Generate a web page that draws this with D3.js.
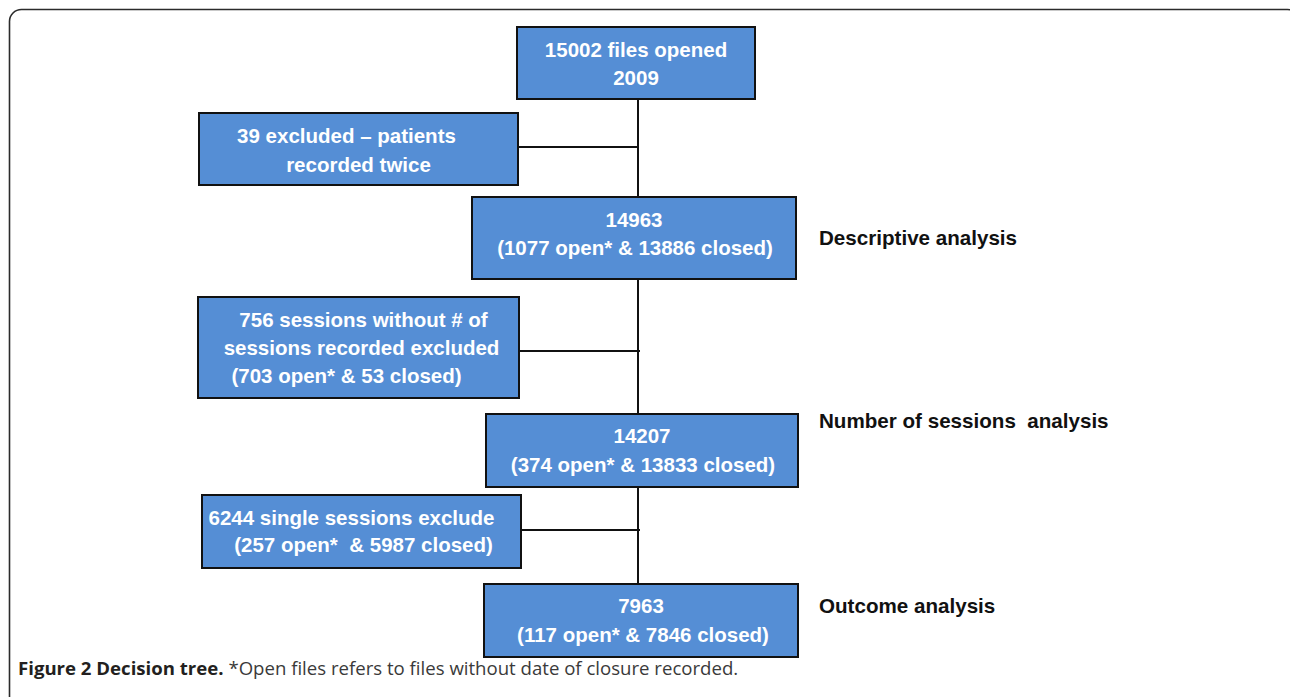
<!DOCTYPE html>
<html>
<head>
<meta charset="utf-8">
<script src="https://cdn.jsdelivr.net/npm/d3@7/dist/d3.min.js"></script>
<style>
  html, body { margin: 0; padding: 0; background: #fff; }
  svg { display: block; }
</style>
</head>
<body>
<script>
// ---- data ----
const stepLabels = [
  ["15002 files opened", "2009"],
  ["14963", "(1077 open* & 13886 closed)"],
  ["14207", "(374 open* & 13833 closed)"],
  ["7963", "(117 open* & 7846 closed)"]
];
const exclusionLabels = [
  ["39 excluded \u2013 patients", "recorded twice"],
  ["756 sessions without # of", "sessions recorded excluded", "(703 open* & 53 closed)"],
  ["6244 single sessions exclude", "(257 open*  & 5987 closed)"]
];
const stageLabels = ["Descriptive analysis", "Number of sessions  analysis", "Outcome analysis"];
const captionBold = "Figure 2 Decision tree.";
const captionText = " *Open files refers to files without date of closure recorded.";

// ---- layout (positions / sizes) ----
const W = 1290, H = 697;
const fill = "#558ed5";
const stepBoxes = [
  {x0: 517, x1: 755, y0: 27, y1: 99, base: [57, 85], dx: [0, 0]},
  {x0: 472, x1: 796, y0: 197, y1: 279, base: [227, 255], dx: [0, 1]},
  {x0: 486, x1: 798, y0: 414, y1: 487, base: [443, 472], dx: [0, 1]},
  {x0: 484, x1: 798, y0: 584, y1: 657, base: [613, 642], dx: [0, 2]}
];
const exclBoxes = [
  {x0: 199, x1: 518, y0: 113, y1: 185, base: [143, 172], dx: [-12, 0], cy: 147},
  {x0: 198, x1: 519, y0: 297, y1: 398, base: [327, 355, 383], dx: [5, 3, -12], cy: 351},
  {x0: 202, x1: 521, y0: 495, y1: 568, base: [525, 552], dx: [-10, 2], cy: 530}
];
const stageY = [245, 428, 613];
const spineX = 638;

const svg = d3.select("body").append("svg").attr("width", W).attr("height", H);

// frame
svg.append("rect")
  .attr("x", 9.5).attr("y", 9.5).attr("width", 1290).attr("height", 720)
  .attr("rx", 12).attr("ry", 12)
  .attr("fill", "none").attr("stroke", "#2b2b2b").attr("stroke-width", 1.6);

const lineG = svg.append("g").attr("stroke", "#111").attr("stroke-width", 2);

// spine segments between consecutive step boxes
d3.pairs(stepBoxes).forEach(([a, b]) => {
  lineG.append("line").attr("x1", spineX).attr("x2", spineX).attr("y1", a.y1).attr("y2", b.y0);
});
// branches
exclBoxes.forEach((e, i) => {
  lineG.append("line").attr("x1", e.x1).attr("x2", i === 0 ? spineX : spineX + 2)
    .attr("y1", e.cy).attr("y2", e.cy);
});

function drawBox(b, lines) {
  const g = svg.append("g");
  g.append("rect")
    .attr("x", b.x0).attr("y", b.y0)
    .attr("width", b.x1 - b.x0).attr("height", b.y1 - b.y0)
    .attr("fill", fill).attr("stroke", "#111").attr("stroke-width", 2);
  const cx = (b.x0 + b.x1) / 2;
  g.selectAll("text").data(lines).join("text")
    .attr("x", (d, i) => cx + b.dx[i])
    .attr("y", (d, i) => b.base[i])
    .attr("text-anchor", "middle")
    .attr("fill", "#fff")
    .attr("font-family", "'Liberation Sans', Arial, sans-serif")
    .attr("font-weight", "bold")
    .attr("font-size", 20.5)
    .style("white-space", "pre")
    .text(d => d);
}
stepBoxes.forEach((b, i) => drawBox(b, stepLabels[i]));
exclBoxes.forEach((b, i) => drawBox(b, exclusionLabels[i]));

// stage labels
svg.selectAll("text.stage").data(stageLabels).join("text")
  .attr("class", "stage")
  .attr("x", 819)
  .attr("y", (d, i) => stageY[i])
  .attr("fill", "#111")
  .attr("font-family", "'Liberation Sans', Arial, sans-serif")
  .attr("font-weight", "bold")
  .attr("font-size", 20.6)
  .style("white-space", "pre")
  .text(d => d);

// caption
const cap = svg.append("text").attr("x", 18).attr("y", 675)
  .attr("font-family", "'Open Sans', 'Noto Sans', sans-serif")
  .attr("font-size", 18.6)
  .style("white-space", "pre");
cap.append("tspan").attr("font-weight", "bold").attr("fill", "#231f20").text(captionBold);
cap.append("tspan").attr("fill", "#3a3a3a").text(captionText);
</script>
</body>
</html>
